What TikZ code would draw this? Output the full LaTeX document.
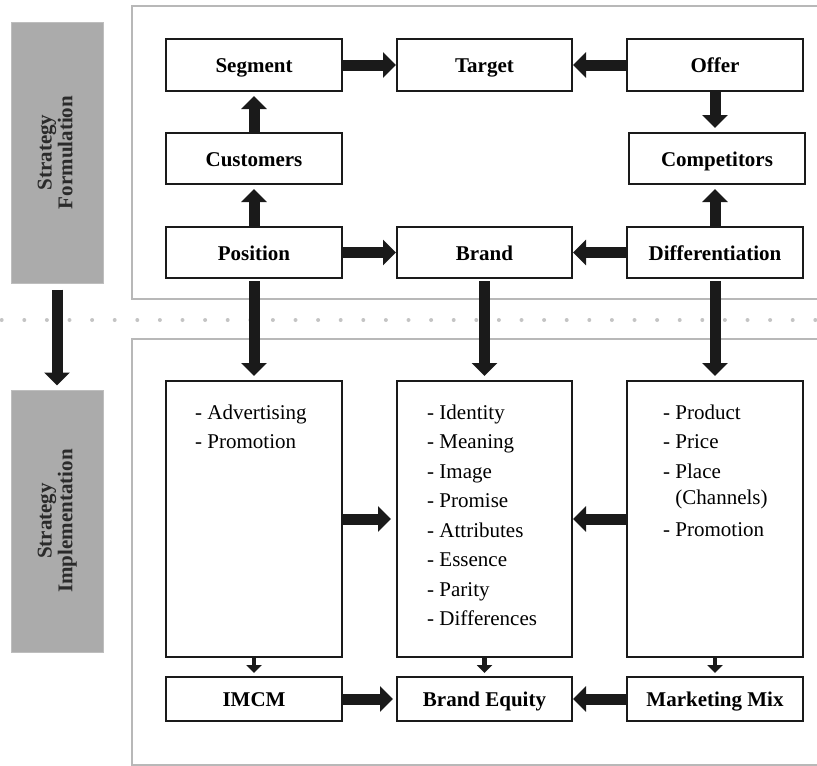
\documentclass[tikz,border=0pt]{standalone}
\usepackage{fontspec}
\setmainfont{Liberation Serif}
\usetikzlibrary{arrows.meta}
\definecolor{ink}{HTML}{1A1A1A}
\definecolor{panelline}{HTML}{B8B8B8}
\definecolor{phasefill}{HTML}{ABABAB}
\definecolor{phaseline}{HTML}{BEBEBE}
\definecolor{phasetext}{HTML}{2A2A2A}
\definecolor{dotcol}{HTML}{C4C4C4}
\begin{document}
\begin{tikzpicture}[x=1pt,y=-1pt,
  panel/.style={draw=panelline,line width=2pt},
  phase/.style={draw=phaseline,line width=1pt,fill=phasefill,minimum width=92pt,
    text=phasetext,font=\fontsize{21}{25}\selectfont\bfseries,align=center},
  box/.style={draw=ink,line width=2pt,fill=white,minimum width=176pt,inner sep=0pt,
    text height=15pt,text depth=0pt,font=\fontsize{21}{25}\selectfont\bfseries},
  listtext/.style={inner sep=0pt,anchor=north west,align=left,
    font=\fontsize{21}{29.5}\selectfont},
  bigarrow/.style={draw=ink,line width=11pt,-{Triangle[width=25pt,length=13pt]}},
  smallarrow/.style={draw=ink,line width=4.5pt,-{Triangle[width=15pt,length=8pt]}}
]
\useasboundingbox (0,0) rectangle (817,766);

% two framed panels, open towards the right
\draw[panel] (132,6) rectangle (840,299);
\draw[panel] (132,339) rectangle (840,765);

% dotted separator between formulation and implementation
\draw[dotcol,line width=4pt,line cap=round,dash pattern=on 0pt off 22.6pt] (1.7,320) -- (817,320);

% phase labels
\node[phase,minimum height=261pt] (sf) at (57,152.5) {\rotatebox{90}{\begin{tabular}{@{}c@{}}Strategy\\[-4pt]Formulation\end{tabular}}};
\node[phase,minimum height=262pt] (si) at (57,521) {\rotatebox{90}{\begin{tabular}{@{}c@{}}Strategy\\[-4pt]Implementation\end{tabular}}};

% strategy formulation boxes
\node[box,minimum height=52pt] (seg) at (254,65) {Segment};
\node[box,minimum height=52pt,minimum width=175pt] (tgt) at (484.5,65) {Target};
\node[box,minimum height=52pt] (off) at (715,65) {Offer};
\node[box,minimum height=51pt] (cus) at (254,158.5) {Customers};
\node[box,minimum height=51pt] (com) at (717,158.5) {Competitors};
\node[box,minimum height=51pt] (pos) at (254,252.5) {Position};
\node[box,minimum height=51pt,minimum width=175pt] (brd) at (484.5,252.5) {Brand};
\node[box,minimum height=51pt] (dif) at (715,252.5) {Differentiation};

% strategy implementation boxes
\node[box,minimum height=276pt] (adv) at (254,519) {};
\node[box,minimum height=276pt,minimum width=175pt] (idn) at (484.5,519) {};
\node[box,minimum height=276pt] (prd) at (715,519) {};
\node[box,minimum height=44pt] (imc) at (254,699) {IMCM};
\node[box,minimum height=44pt,minimum width=175pt] (beq) at (484.5,699) {Brand Equity};
\node[box,minimum height=44pt] (mmx) at (715,699) {Marketing Mix};

% list contents
\node[listtext] (advl) at (195,398.35) {\strut- Advertising\\- Promotion};
\node[listtext] (idnl) at (427,398.35) {\strut- Identity\\- Meaning\\- Image\\- Promise\\- Attributes\\- Essence\\- Parity\\- Differences};
\node[listtext] (prdl) at (663,398.35) {\strut- Product\\- Price\\- Place\\[-3.5pt]\hphantom{- }(Channels)\\[2.5pt]- Promotion};

% phase arrow
\draw[bigarrow,shorten <=6pt,shorten >=4pt] (sf.south) -- (si.north);

% formulation arrows
\draw[bigarrow] (seg) -- (tgt);
\draw[bigarrow] (off) -- (tgt);
\draw[bigarrow,shorten >=4pt] (cus) -- (seg);
\draw[bigarrow,shorten >=4pt] (pos) -- (cus);
\draw[bigarrow,shorten >=4pt] (off) -- (com.north -| off);
\draw[bigarrow,shorten >=4pt] (dif) -- (com.south -| dif);
\draw[bigarrow] (pos) -- (brd);
\draw[bigarrow] (dif) -- (brd);

% formulation to implementation
\draw[bigarrow,shorten <=2pt,shorten >=4pt] (pos) -- (adv);
\draw[bigarrow,shorten <=2pt,shorten >=4pt] (brd) -- (idn);
\draw[bigarrow,shorten <=2pt,shorten >=4pt] (dif) -- (prd);

% implementation arrows
\draw[bigarrow,shorten >=5pt] (adv) -- (idn);
\draw[bigarrow] (prd) -- (idn);
\draw[smallarrow,shorten >=3pt] (adv) -- (imc);
\draw[smallarrow,shorten >=3pt] (idn) -- (beq);
\draw[smallarrow,shorten >=3pt] (prd) -- (mmx);
\draw[bigarrow,shorten >=3pt] (imc) -- (beq);
\draw[bigarrow] (mmx) -- (beq);
\end{tikzpicture}
\end{document}
